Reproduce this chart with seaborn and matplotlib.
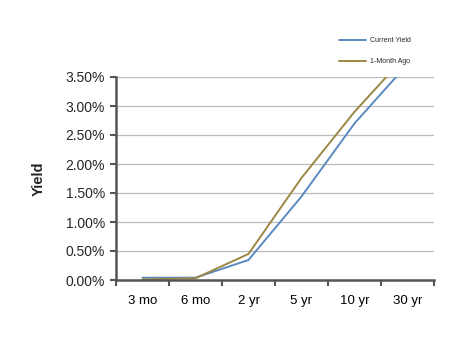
import matplotlib
matplotlib.use("Agg")
import matplotlib.pyplot as plt
import seaborn as sns
import pandas as pd
from matplotlib.ticker import FuncFormatter, FixedLocator

maturities = ["3 mo", "6 mo", "2 yr", "5 yr", "10 yr", "30 yr"]
current_yield = [0.04, 0.04, 0.345, 1.44, 2.70, 3.72]
month_ago = [0.01, 0.03, 0.45, 1.76, 2.90, 3.90]
series_names = ["Current Yield", "1-Month Ago"]
colors = ["#5B8AC0", "#9C8744"]

df = pd.DataFrame({
    "Maturity": maturities * 2,
    "Yield": current_yield + month_ago,
    "Series": [series_names[0]] * 6 + [series_names[1]] * 6,
})

sns.set_theme(style="white")
plt.rcParams["font.family"] = ["Liberation Sans", "DejaVu Sans"]

fig = plt.figure(figsize=(4.67, 3.41), dpi=100)
ax = fig.add_axes([116/467, 1 - 280/341, (434-116)/467, (280-77)/341])

sns.lineplot(data=df, x="Maturity", y="Yield", hue="Series", palette=colors,
             linewidth=1.4, ax=ax, sort=False, legend=True)

ax.set_ylim(0, 3.5)
ax.set_xlim(-0.5, 5.5)
ax.set_yticks([0, 0.5, 1.0, 1.5, 2.0, 2.5, 3.0, 3.5])
ax.yaxis.set_major_formatter(FuncFormatter(lambda v, p: f"{v:.2f}%"))
ax.yaxis.grid(True, color="#BBBBBB", linewidth=0.9)
ax.set_axisbelow(True)

ax.xaxis.set_minor_locator(FixedLocator([i - 0.5 for i in range(7)]))
ax.tick_params(axis="x", which="major", length=0, labelsize=9.5, pad=11, colors="black")
ax.tick_params(axis="x", which="minor", length=4, width=1.5, color="#555555", direction="out", bottom=True)
ax.tick_params(axis="y", which="major", length=4, width=1.5, color="#555555", direction="out", left=True, labelsize=10, pad=4)

for s in ["top", "right"]:
    ax.spines[s].set_visible(False)
for s in ["left", "bottom"]:
    ax.spines[s].set_color("#555555")
    ax.spines[s].set_linewidth(1.8)

ax.set_xlabel("")
ax.set_ylabel("Yield", fontsize=10.5, fontweight="bold")
ax.yaxis.set_label_coords((46 - 116) / (434 - 116), 0.5)

handles, labels = ax.get_legend_handles_labels()
ax.legend(handles, labels, loc="upper left", bbox_to_anchor=(333/467, 1 - 31/341),
          bbox_transform=fig.transFigure, frameon=False, fontsize=5,
          handlelength=3.9, handletextpad=0.5, labelspacing=2.0)

fig.savefig("out.png", dpi=100)
